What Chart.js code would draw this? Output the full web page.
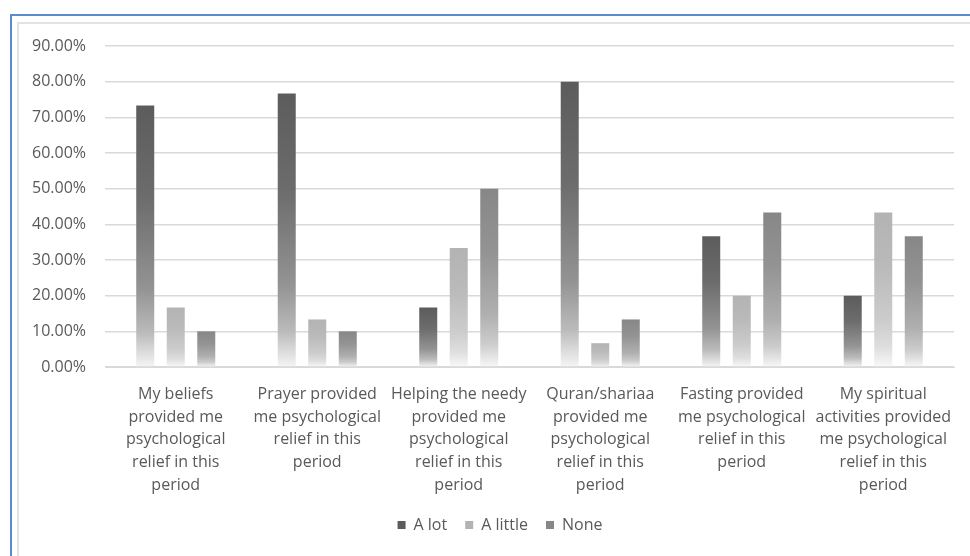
<!DOCTYPE html>
<html>
<head>
<meta charset="utf-8">
<script src="https://cdn.jsdelivr.net/npm/chart.js@4/dist/chart.umd.min.js"></script>
<style>
  html, body { margin: 0; padding: 0; background: #fff; }
  #wrap { position: relative; width: 970px; height: 556px; overflow: hidden; }
  #c { position: absolute; left: 0; top: 0; }
  .blueL { position: absolute; left: 10px; top: 14px; width: 2px; height: 560px; background: #5b8bcb; }
  .blueT { position: absolute; left: 10px; top: 14px; width: 980px; height: 2px; background: #5b8bcb; }
  .grayL { position: absolute; left: 17px; top: 22px; width: 2px; height: 560px; background: #e3e3e3; }
  .grayT { position: absolute; left: 17px; top: 22px; width: 980px; height: 2px; background: #e3e3e3; }
</style>
</head>
<body>
<div id="wrap">
  <canvas id="c" width="970" height="556"></canvas>
  <div class="blueL"></div><div class="blueT"></div>
  <div class="grayL"></div><div class="grayT"></div>
</div>
<script>
const categories = [
  ["My beliefs", "provided me", "psychological", "relief in this", "period"],
  ["Prayer provided", "me psychological", "relief in this", "period"],
  ["Helping the needy", "provided me", "psychological", "relief in this", "period"],
  ["Quran/shariaa", "provided me", "psychological", "relief in this", "period"],
  ["Fasting provided", "me psychological", "relief in this", "period"],
  ["My spiritual", "activities provided", "me psychological", "relief in this", "period"]
];
const seriesNames = ["A lot", "A little", "None"];
const aLot    = [73.33, 76.67, 16.67, 80.00, 36.67, 20.00];
const aLittle = [16.67, 13.33, 33.33,  6.67, 20.00, 43.33];
const none    = [10.00, 10.00, 50.00, 13.33, 43.33, 36.67];
const yTicks  = [0, 10, 20, 30, 40, 50, 60, 70, 80, 90];
const baseColors = ["#5c5c5c", "#b3b3b3", "#878787"];

function mix(hex, t) {
  const n = parseInt(hex.slice(1), 16);
  const r = (n >> 16) & 255, g = (n >> 8) & 255, b = n & 255;
  const f = c => Math.round(c + (250 - c) * t);
  return `rgb(${f(r)},${f(g)},${f(b)})`;
}
function gradFill(base) {
  return (ctx) => {
    const chart = ctx.chart;
    if (!chart.chartArea || ctx.type !== 'data' || !chart.scales.y) return base;
    const y = chart.scales.y;
    const top = y.getPixelForValue(ctx.raw);
    const bottom = y.getPixelForValue(0);
    if (!isFinite(top) || !isFinite(bottom) || bottom - top < 1) return base;
    const g = chart.ctx.createLinearGradient(0, top, 0, bottom);
    g.addColorStop(0, mix(base, 0));
    g.addColorStop(0.35, mix(base, 0.1));
    g.addColorStop(0.7, mix(base, 0.35));
    g.addColorStop(0.87, mix(base, 0.6));
    g.addColorStop(1, mix(base, 0.97));
    return g;
  };
}

const FONT = "'Open Sans', 'DejaVu Sans', sans-serif";
const TXT = "#595959";

const datasets = [aLot, aLittle, none].map((d, i) => ({
  label: seriesNames[i],
  data: d,
  backgroundColor: gradFill(baseColors[i]),
  borderWidth: 0,
  categoryPercentage: 0.647,
  barPercentage: 0.59
}));

// shift the legend so it is centred where the original's is
const legendShift = {
  id: 'legendShift',
  afterLayout(chart) {
    const l = chart.legend;
    if (l) { l.left += 13; l.right += 13; }
  }
};

new Chart(document.getElementById('c'), {
  type: 'bar',
  data: { labels: categories, datasets },
  plugins: [legendShift],
  options: {
    responsive: false,
    animation: false,
    devicePixelRatio: 1,
    layout: { padding: { left: 20, right: 16, top: 46, bottom: 13 } },
    plugins: {
      tooltip: { enabled: false },
      legend: {
        position: 'bottom',
        labels: {
          color: TXT,
          font: { family: FONT, size: 16 },
          boxWidth: 8,
          boxHeight: 8,
          padding: 18,
          generateLabels: (chart) => chart.data.datasets.map((ds, i) => ({
            text: ds.label,
            fillStyle: baseColors[i],
            strokeStyle: baseColors[i],
            lineWidth: 0,
            fontColor: TXT,
            datasetIndex: i,
            hidden: false
          }))
        }
      }
    },
    scales: {
      x: {
        grid: { display: false, drawTicks: false },
        border: { display: true, color: '#d9d9d9', width: 1 },
        ticks: {
          color: TXT,
          font: { family: FONT, size: 16, lineHeight: 1.42 },
          maxRotation: 0,
          autoSkip: false,
          padding: 16
        },
        afterFit: (s) => { s.height = 132; }
      },
      y: {
        min: 0,
        max: 90,
        afterBuildTicks: (s) => { s.ticks = yTicks.map(v => ({ value: v })); },
        grid: { color: '#d9d9d9', lineWidth: 1.5, drawTicks: false },
        border: { display: false },
        ticks: {
          color: TXT,
          font: { family: FONT, size: 16 },
          padding: 19,
          callback: (v) => Number(v).toFixed(2) + '%'
        },
        afterFit: (s) => { s.width = 85; }
      }
    }
  }
});
</script>
</body>
</html>
